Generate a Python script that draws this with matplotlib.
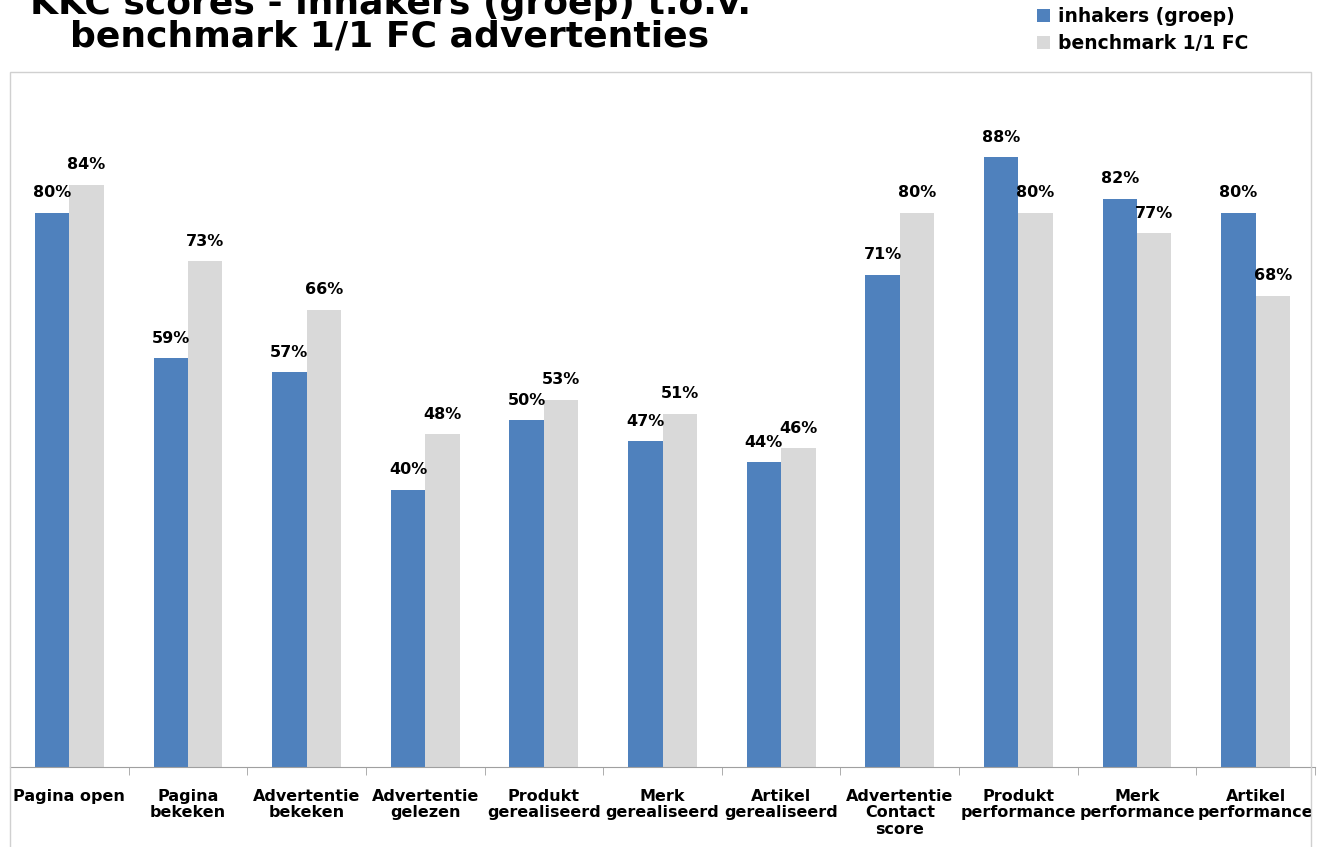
import numpy as np
import matplotlib.pyplot as plt
from matplotlib.patches import Rectangle

categories = ["Pagina open", "Pagina\nbekeken", "Advertentie\nbekeken", "Advertentie\ngelezen",
              "Produkt\ngerealiseerd", "Merk\ngerealiseerd", "Artikel\ngerealiseerd",
              "Advertentie\nContact\nscore", "Produkt\nperformance", "Merk\nperformance",
              "Artikel\nperformance"]
inhakers = [80, 59, 57, 40, 50, 47, 44, 71, 88, 82, 80]
benchmark = [84, 73, 66, 48, 53, 51, 46, 80, 80, 77, 68]
series_names = ["inhakers (groep)", "benchmark 1/1 FC"]

blue = "#4F81BD"
grey = "#D9D9D9"

fig = plt.figure(figsize=(13.18, 8.47), dpi=100)
ax = fig.add_axes([10/1318, 1 - 767/847, 1305/1318, (767 - 74)/847])

x = np.arange(len(categories))
w = 0.29
b1 = ax.bar(x - w/2, inhakers, w, color=blue, label=series_names[0])
b2 = ax.bar(x + w/2, benchmark, w, color=grey, label=series_names[1])

for bars, vals in [(b1, inhakers), (b2, benchmark)]:
    for r, v in zip(bars, vals):
        ax.text(r.get_x() + r.get_width()/2, v + 1.8, f"{v}%", ha="center", va="bottom",
                fontsize=11.5, fontweight="bold")

ax.set_xlim(-0.5, len(categories) - 0.5)
ax.set_ylim(0, 100)
ax.set_yticks([])
for s in ["top", "left", "right"]:
    ax.spines[s].set_visible(False)
ax.spines["bottom"].set_color("#A0A0A0")
ax.set_xticks(np.arange(len(categories) + 1) - 0.5, minor=True)
ax.tick_params(axis="x", which="minor", length=6, color="#A0A0A0")
ax.set_xticks(x)
ax.set_xticklabels(categories, fontsize=11.5, fontweight="bold", linespacing=1.1)
ax.tick_params(axis="x", which="major", length=0, pad=16)

# chart frame
fig.patches.append(Rectangle((10/1318, -0.01), 1301/1318, 1 - 72/847 + 0.01,
                             transform=fig.transFigure, fill=False,
                             edgecolor="#D0D0D0", lw=1))

fig.text(390/1318, 1 - 4/847, "KKC scores - inhakers (groep) t.o.v.", ha="center", va="center",
         fontsize=26, fontweight="bold")
fig.text(390/1318, 1 - 37/847, "benchmark 1/1 FC advertenties", ha="center", va="center",
         fontsize=26, fontweight="bold")

leg = fig.legend(handles=[b1, b2], labels=series_names, loc="upper left",
                 bbox_to_anchor=(1020/1318, 1.012), frameon=False,
                 prop={"size": 13.5, "weight": "bold"}, handlelength=0.7, handleheight=0.7,
                 handletextpad=0.4, labelspacing=0.45)

fig.savefig("out.png", dpi=100)
